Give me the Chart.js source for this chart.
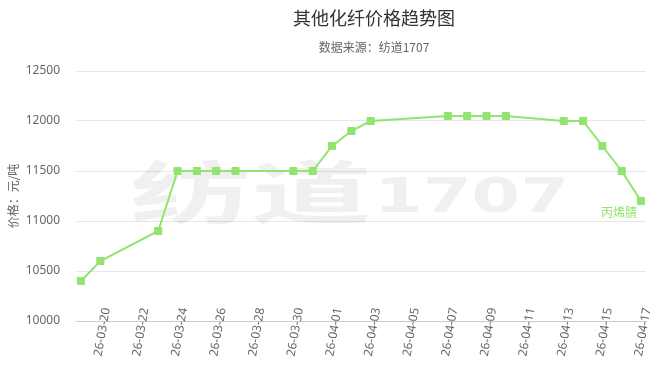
<!DOCTYPE html>
<html>
<head>
<meta charset="utf-8">
<script src="https://cdn.jsdelivr.net/npm/chart.js@4"></script>
<style>
  body { margin: 0; background: #fff; font-family: "Noto Sans CJK SC", sans-serif; }
  #wrap { position: relative; width: 662px; height: 373px; }
  #titulo { position: absolute; left: 374px; top: 8px; transform: translateX(-50%); font-size: 18px; line-height: 18px; color: #333; white-space: nowrap; }
  #subtitulo { position: absolute; left: 374px; top: 41px; transform: translateX(-50%); font-size: 12px; line-height: 12px; color: #666; white-space: nowrap; }
  canvas { position: absolute; left: 0; top: 0; }
</style>
</head>
<body>
<div id="wrap">
  <canvas id="grafica" width="662" height="373"></canvas>
  <div id="titulo">其他化纤价格趋势图</div>
  <div id="subtitulo">数据来源：纺道1707</div>
</div>
<script>
// datos
const fechas = ['2026-03-19', '2026-03-20', '2026-03-23', '2026-03-24', '2026-03-25', '2026-03-26', '2026-03-27',
  '2026-03-30', '2026-03-31', '2026-04-01', '2026-04-02', '2026-04-03', '2026-04-07', '2026-04-08',
  '2026-04-09', '2026-04-10', '2026-04-13', '2026-04-14', '2026-04-15', '2026-04-16', '2026-04-17'];
const precios = [10400, 10600, 10900, 11500, 11500, 11500, 11500, 11500, 11500, 11750, 11900, 12000,
  12050, 12050, 12050, 12050, 12000, 12000, 11750, 11500, 11200];
const etiquetasX = ['26-03-20', '26-03-22', '26-03-24', '26-03-26', '26-03-28', '26-03-30', '26-04-01',
  '26-04-03', '26-04-05', '26-04-07', '26-04-09', '26-04-11', '26-04-13', '26-04-15', '26-04-17'];
const serie = '丙烯腈';

const verde = '#91e46f';
const base = Date.parse('2026-03-20');
const dia = s => (Date.parse(s) - base) / 86400000;
const diasTicks = etiquetasX.map(e => dia('20' + e));

const puntos = fechas.map((f, i) => ({ x: dia(f), y: precios[i] }));

// marca de agua, etiquetas del eje x y etiqueta final
const extras = {
  id: 'extras',
  beforeDatasetsDraw(chart) {
    const ctx = chart.ctx;
    ctx.save();
    ctx.fillStyle = 'rgba(0,0,0,0.06)';
    ctx.textBaseline = 'alphabetic';
    ctx.save();
    ctx.translate(130, 218);
    ctx.scale(1.78, 1);
    ctx.font = 'bold 68px "Noto Sans CJK SC"';
    ctx.fillText('纺道', 0, 0);
    ctx.restore();
    ctx.save();
    ctx.translate(374, 212);
    ctx.scale(1.46, 1);
    ctx.font = 'bold 48px "DejaVu Sans"';
    ctx.fillText('1707', 0, 0);
    ctx.restore();
    ctx.restore();
  },
  afterDraw(chart) {
    const ctx = chart.ctx;
    const x = chart.scales.x;
    const abajo = chart.chartArea.bottom;
    ctx.save();
    ctx.fillStyle = '#666';
    ctx.font = '12px "Noto Sans"';
    ctx.textAlign = 'center';
    ctx.textBaseline = 'middle';
    x.ticks.forEach((t, i) => {
      const px = x.getPixelForValue(t.value);
      ctx.save();
      ctx.translate(px + 2, abajo + 11);
      ctx.rotate(-80 * Math.PI / 180);
      ctx.fillText(etiquetasX[i], 0, 0);
      ctx.restore();
    });
    ctx.restore();
  },
  afterDatasetsDraw(chart) {
    const meta = chart.getDatasetMeta(0);
    const ultimo = meta.data[meta.data.length - 1];
    const ctx = chart.ctx;
    ctx.save();
    ctx.fillStyle = verde;
    ctx.font = '12px "Noto Sans CJK SC"';
    ctx.textAlign = 'right';
    ctx.textBaseline = 'middle';
    ctx.fillText(serie, ultimo.x - 4, ultimo.y + 11);
    ctx.restore();
  }
};

new Chart(document.getElementById('grafica'), {
  type: 'line',
  data: {
    datasets: [{
      label: serie,
      data: puntos,
      borderColor: verde,
      backgroundColor: verde,
      borderWidth: 2,
      tension: 0,
      pointStyle: 'rect',
      pointRadius: 5,
      pointBorderWidth: 1,
      pointBorderColor: verde,
      pointBackgroundColor: verde
    }]
  },
  options: {
    responsive: false,
    animation: false,
    layout: { padding: { top: 71, right: 16, left: 0, bottom: 0 } },
    plugins: {
      legend: { display: false },
      tooltip: { enabled: false }
    },
    scales: {
      x: {
        type: 'linear',
        min: -1.26,
        max: 28.26,
        afterBuildTicks: s => { s.ticks = diasTicks.map(v => ({ value: v })); },
        afterFit: s => { s.height = 52; },
        grid: { display: false, drawTicks: false },
        border: { color: '#c6cadc', width: 1 },
        ticks: { display: false }
      },
      y: {
        min: 10000,
        max: 12500,
        afterFit: s => { s.width = 76; },
        grid: { color: '#e6e6e6', drawTicks: false },
        border: { display: false },
        ticks: {
          stepSize: 500,
          padding: 16,
          color: '#666',
          font: { size: 12, family: '"Noto Sans"' },
          callback: v => String(v)
        },
        title: {
          display: true,
          text: '价格：元/吨',
          color: '#666',
          font: { size: 12, family: '"Noto Sans CJK SC"' },
          padding: { top: 6, bottom: 0 }
        }
      }
    }
  },
  plugins: [extras]
});
</script>
</body>
</html>
